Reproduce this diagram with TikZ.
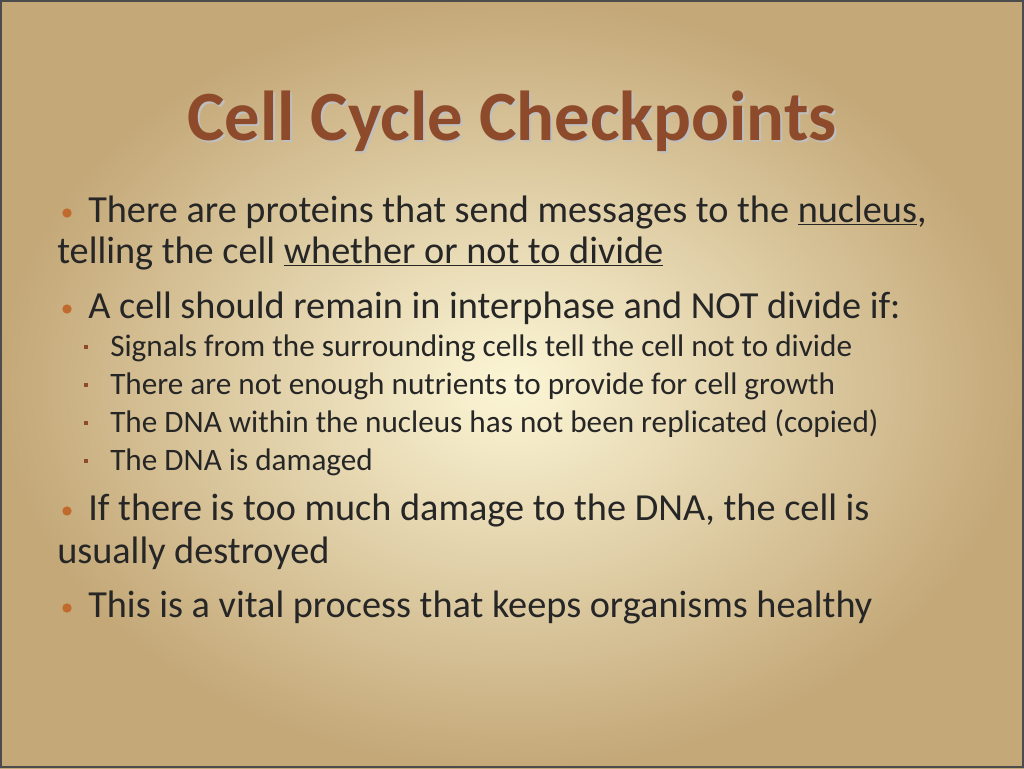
\documentclass[tikz,border=0pt]{standalone}
\usepackage{fontspec}
\setmainfont{Carlito}
\usetikzlibrary{positioning}
\definecolor{titlebrown}{HTML}{8E4B2B}
\definecolor{dotbrown}{HTML}{C06A2E}
\definecolor{bgcenter}{HTML}{FCF6D6}
\definecolor{bgedge}{HTML}{C4A878}
\begin{document}
\begin{tikzpicture}[x=0.75pt,y=-0.75pt,
                    bodyline/.style={anchor=base west,inner sep=0pt,font=\fontsize{28.7}{32}\selectfont,text=black!85},
                    subline/.style={anchor=base west,inner sep=0pt,font=\fontsize{23.4}{27}\selectfont,text=black!85},
                    dotmark/.style={circle,fill=dotbrown,inner sep=0pt,minimum size=7pt},
                    squaremark/.style={fill=titlebrown,inner sep=0pt,minimum size=3pt}
                ]
    \useasboundingbox (0,0) rectangle (1024,768);
    \shade[inner color=bgcenter,outer color=bgedge] (0,0) rectangle (1024,768);
    \draw[black!70,line width=0.8pt] (1,1) rectangle (1023,767);
    % title
    \node[anchor=base,inner sep=0pt,font=\fontsize{53}{60}\selectfont\bfseries,text=black!25] at (514,142) {Cell Cycle Checkpoints};
    \node[anchor=base,inner sep=0pt,font=\fontsize{53}{60}\selectfont\bfseries,text=titlebrown] (title) at (512,140) {Cell Cycle Checkpoints};
    % main bullets
    \foreach \y/\n in {213/a,309/b,511/c,608/d}
        \node[dotmark] (dot\n) at (67,\y) {};
    \node[bodyline] (l1) at (88,222) {There are proteins that send messages to the \underline{nucleus},};
    \node[bodyline] (l2) at (57,263) {telling the cell \underline{whether or not to divide}};
    \node[bodyline] (l3) at (88,318) {A cell should remain in interphase and NOT divide if:};
    % sub bullets
    \foreach \y/\t [count=\k] in {356/Signals from the surrounding cells tell the cell not to divide,
                                  394/There are not enough nutrients to provide for cell growth,
                                  432/The DNA within the nucleus has not been replicated (copied),
                                  470/The DNA is damaged}
        {
        \node[squaremark] (sq\k) at (86,\y-9) {};
        \node[subline] (s\k) at (110,\y) {\t};
        }
    \node[bodyline] (l4) at (88,520) {If there is too much damage to the DNA, the cell is};
    \node[bodyline] (l5) at (57,563) {usually destroyed};
    \node[bodyline] (l6) at (88,617) {This is a vital process that keeps organisms healthy};
\end{tikzpicture}
\end{document}
